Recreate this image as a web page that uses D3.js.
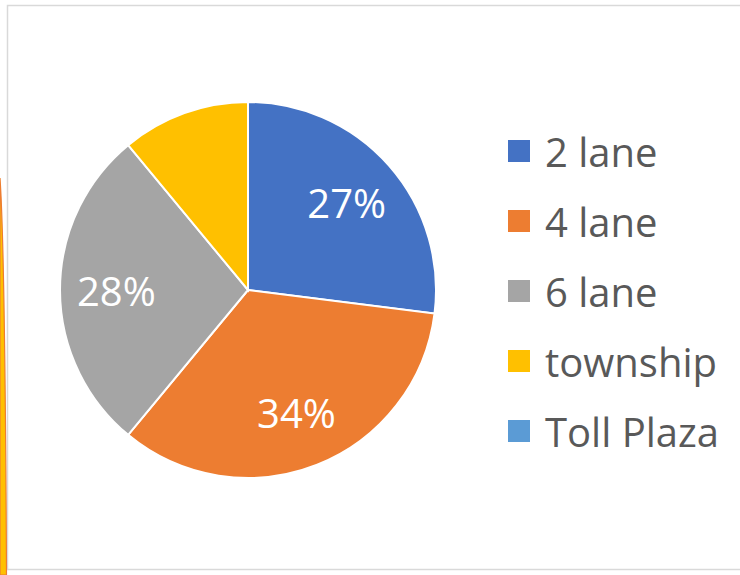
<!DOCTYPE html>
<html><head><meta charset="utf-8">
<script src="https://cdn.jsdelivr.net/npm/d3@7"></script>
<style>html,body{margin:0;padding:0;background:#fff;}svg{display:block;}</style>
</head><body>
<svg id="chart" width="740" height="575"></svg>
<script>
const categories = ["2 lane", "4 lane", "6 lane", "township", "Toll Plaza"];
const values = [27, 34, 28, 11, 0];
const labels = ["27%", "34%", "28%", "", ""];
const colors = ["#4472C4", "#ED7D31", "#A5A5A5", "#FFC000", "#5B9BD5"];

const svg = d3.select("#chart");
const font = "'Open Sans', 'Noto Sans', sans-serif";

// frame
svg.append("rect").attr("x", 7.5).attr("y", 5.5).attr("width", 740).attr("height", 564)
  .attr("fill", "#fff").attr("stroke", "#d9d9d9").attr("stroke-width", 1.5);
// decorative left edge
svg.append("path").attr("d", "M0,178 Q5,250 6.5,575 L0,575 Z").attr("fill", "#FFC000")
  .attr("stroke", "#ED7D31").attr("stroke-width", 1.2);

const cx = 248, cy = 290, r = 188;
const pie = d3.pie().sort(null).value(d => d)(values);
const arc = d3.arc().innerRadius(0).outerRadius(r);
const color = d3.scaleOrdinal().domain(categories).range(colors);

const g = svg.append("g").attr("transform", `translate(${cx},${cy})`);
g.selectAll("path").data(pie).join("path")
  .attr("d", arc)
  .attr("fill", (d, i) => color(categories[i]))
  .attr("stroke", "#fff").attr("stroke-width", 2);

const labelArc = d3.arc().innerRadius(r * 0.7).outerRadius(r * 0.7);
g.selectAll("text").data(pie).join("text")
  .attr("transform", d => `translate(${labelArc.centroid(d)})`)
  .attr("text-anchor", "middle").attr("dominant-baseline", "central")
  .attr("fill", "#fff").attr("font-family", font).attr("font-size", 40)
  .text((d, i) => labels[i]);

const legY = d3.scalePoint().domain(categories).range([151, 431]);
const leg = svg.append("g");
leg.selectAll("rect").data(categories).join("rect")
  .attr("x", 508).attr("y", d => legY(d) - 11).attr("width", 22).attr("height", 22)
  .attr("fill", d => color(d));
leg.selectAll("text").data(categories).join("text")
  .attr("x", 545).attr("y", d => legY(d)).attr("dominant-baseline", "central")
  .attr("fill", "#595959").attr("font-family", font).attr("font-size", 40)
  .text(d => d);
</script>
</body></html>
